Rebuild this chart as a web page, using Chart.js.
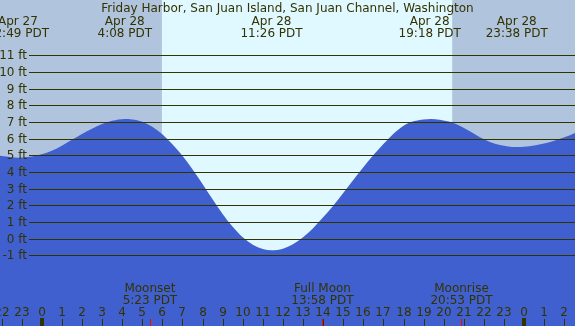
<!DOCTYPE html>
<html>
<head>
<meta charset="utf-8">
<script src="https://cdn.jsdelivr.net/npm/chart.js@4/dist/chart.umd.min.js"></script>
<style>
  html, body { margin: 0; padding: 0; background: #fff; }
  #wrap { width: 575px; height: 326px; }
</style>
</head>
<body>
<div id="wrap"><canvas id="tide" width="575" height="326"></canvas></div>
<script>
const title = "Friday Harbor, San Juan Island, San Juan Channel, Washington";

// hours since midnight Apr 28 (negative = Apr 27), tide height in ft
const hours = [-3, -2.5, -2, -1.5, -1.18, -0.5, 0, 0.5, 1, 1.5, 2, 2.5, 3, 3.5, 4.13,
  4.5, 5, 5.5, 6, 6.5, 7, 7.5, 8, 8.5, 9, 9.5, 10, 10.5, 11, 11.43,
  12, 12.5, 13, 13.5, 14, 14.5, 15, 15.5, 16, 16.5, 17, 17.5, 18, 18.5, 19, 19.36,
  19.8, 20.3, 20.8, 21.3, 21.8, 22.3, 22.8, 23.2, 23.63, 24, 24.5, 25, 25.5, 26, 26.5, 27];
const heights = [5.12, 5.03, 4.96, 4.89, 4.86, 4.93, 5.06, 5.28, 5.58, 5.93, 6.28, 6.6, 6.88, 7.07, 7.18,
  7.15, 7.02, 6.72, 6.26, 5.66, 4.98, 4.17, 3.28, 2.36, 1.48, 0.71, 0.08, -0.36, -0.62, -0.70,
  -0.6, -0.34, 0.08, 0.63, 1.28, 1.98, 2.74, 3.52, 4.29, 5.02, 5.68, 6.3, 6.78, 7.04, 7.15, 7.18,
  7.14, 7.01, 6.78, 6.44, 6.08, 5.8, 5.62, 5.53, 5.5, 5.52, 5.59, 5.71, 5.87, 6.08, 6.33, 6.6];

// high / low tide labels
const tideTimes = [-1.183, 4.133, 11.433, 19.3, 23.633];
const tideDays = ["Apr 27", "Apr 28", "Apr 28", "Apr 28", "Apr 28"];
const tideClock = ["22:49 PDT", "4:08 PDT", "11:26 PDT", "19:18 PDT", "23:38 PDT"];

// moon events
const moonTimes = [5.383, 13.967, 20.883];
const moonNames = ["Moonset", "Full Moon", "Moonrise"];
const moonClock = ["5:23 PDT", "13:58 PDT", "20:53 PDT"];

const sunrise = 5.98;
const sunset = 20.42;

const ftTicks = [-1, 0, 1, 2, 3, 4, 5, 6, 7, 8, 9, 10, 11];
const hourTicks = [-2, -1, 0, 1, 2, 3, 4, 5, 6, 7, 8, 9, 10, 11, 12, 13, 14, 15, 16, 17, 18, 19, 20, 21, 22, 23, 24, 25, 26];

const ink = "#333300";
const font = "12px 'DejaVu Sans'";

const tidePlugin = {
  id: "tideDecor",
  beforeDatasetsDraw(chart) {
    const { ctx, scales: { x }, width, height } = chart;
    const a = x.getPixelForValue(sunrise);
    const b = x.getPixelForValue(sunset);
    ctx.save();
    ctx.fillStyle = "#b0c4de";
    ctx.fillRect(0, 0, width, height);
    ctx.fillStyle = "#e0f8ff";
    ctx.fillRect(a, 0, b - a, height);
    ctx.restore();
  },
  afterDatasetsDraw(chart) {
    const { ctx, scales: { x, y }, width, height } = chart;
    ctx.save();
    ctx.font = font;
    ctx.fillStyle = ink;
    ctx.strokeStyle = ink;
    ctx.lineWidth = 1;

    // horizontal ft lines + labels
    ftTicks.forEach((v) => {
      const py = Math.round(y.getPixelForValue(v)) + 0.5;
      ctx.beginPath();
      ctx.moveTo(29, py);
      ctx.lineTo(width, py);
      ctx.stroke();
      ctx.textAlign = "right";
      ctx.textBaseline = "middle";
      ctx.fillText(v + " ft", 27, py);
    });

    // title and tide labels
    ctx.textAlign = "center";
    ctx.textBaseline = "alphabetic";
    ctx.fillText(title, width / 2, 12);
    tideTimes.forEach((t, i) => {
      const px = x.getPixelForValue(t);
      ctx.fillText(tideDays[i], px, 24.5);
      ctx.fillText(tideClock[i], px, 36.5);
    });

    // moon labels
    moonTimes.forEach((t, i) => {
      const px = x.getPixelForValue(t);
      ctx.fillText(moonNames[i], px, 291.5);
      ctx.fillText(moonClock[i], px, 303.5);
    });

    // hour labels and ticks
    hourTicks.forEach((h) => {
      const px = Math.round(x.getPixelForValue(h));
      const lbl = ((h % 24) + 24) % 24;
      ctx.fillText(String(lbl), px, 316);
      if (lbl === 0) {
        ctx.fillRect(px - 2, 318, 4, height - 318);
      } else {
        ctx.fillRect(px, 319, 1, height - 319);
      }
    });
    ctx.fillStyle = "#ff0000";
    moonTimes.forEach((t) => {
      const px = Math.round(x.getPixelForValue(t));
      ctx.fillRect(px, 319, 1, height - 319);
    });
    ctx.restore();
  },
};

new Chart(document.getElementById("tide"), {
  type: "line",
  data: {
    datasets: [
      {
        data: hours.map((h, i) => ({ x: h, y: heights[i] })),
        borderWidth: 0,
        borderColor: "#4060d0",
        backgroundColor: "#4060d0",
        fill: "start",
        pointRadius: 0,
        cubicInterpolationMode: "monotone",
      },
    ],
  },
  options: {
    responsive: false,
    animation: false,
    layout: { padding: 0 },
    plugins: { legend: { display: false }, tooltip: { enabled: false } },
    scales: {
      x: { type: "linear", min: -2.075, max: 26.53, display: false },
      y: { min: -5.24, max: 14.32, display: false },
    },
  },
  plugins: [tidePlugin],
});
</script>
</body>
</html>
